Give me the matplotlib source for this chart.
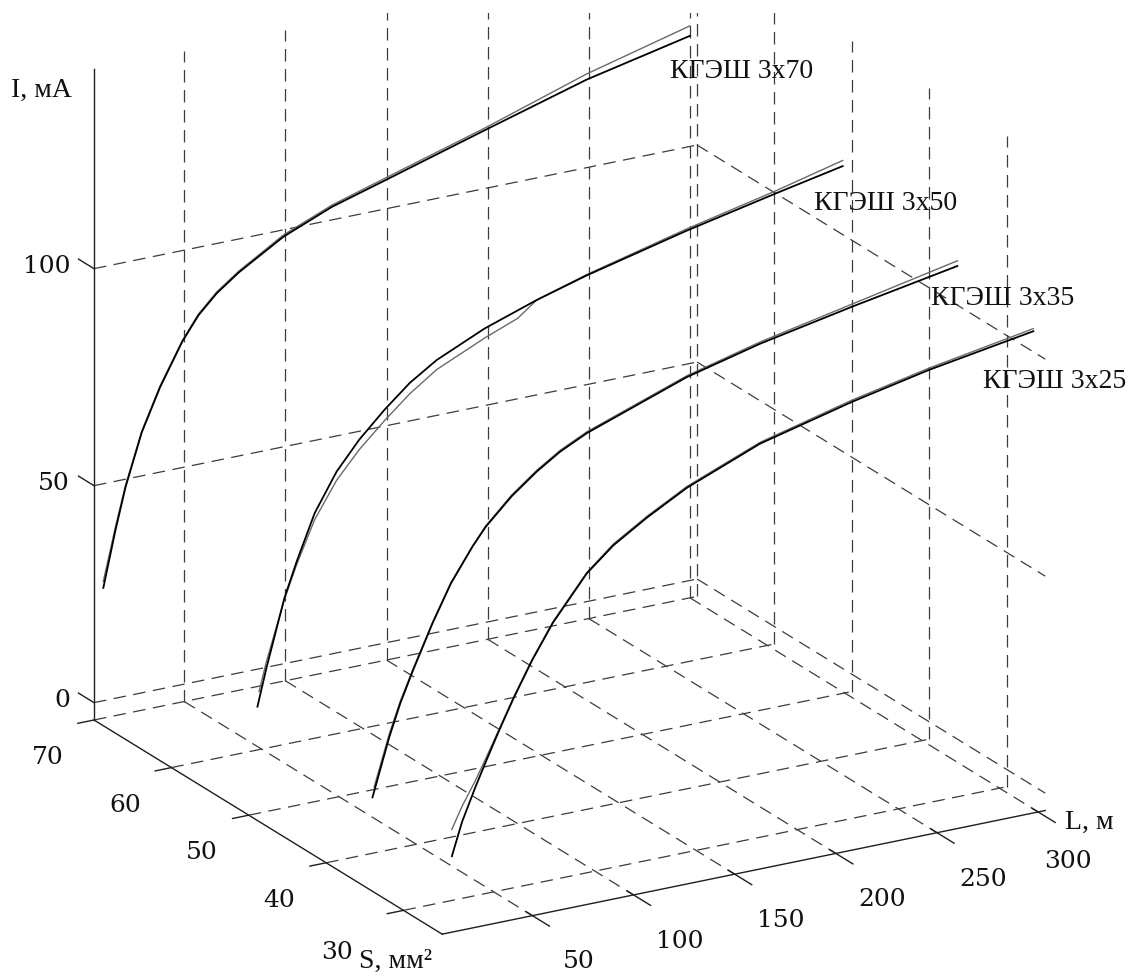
import numpy as np
import matplotlib
matplotlib.use("Agg")
import matplotlib.pyplot as plt
from matplotlib.patches import Rectangle
from mpl_toolkits.mplot3d import proj3d

# axis ranges: L - line length, S - cross-section, I - current
L_MIN, L_MAX = 5.4, 303.5
S_MIN, S_MAX = 25, 70
I_MIN, I_MAX = -4, 146

L_TICKS = [50, 100, 150, 200, 250, 300]
S_TICKS = [70, 60, 50, 40, 30]
I_TICKS = [0, 50, 100]

# КГЭШ 3х70
l70_a = [10, 16, 21, 29, 38, 49, 57, 66, 77, 99, 123, 150, 199, 249, 300]
i70_a = [26, 38.7, 48.2, 60, 69.5, 79, 84.3, 88.5, 92.3, 98.4, 103, 106.7, 113.5, 120.3, 125.5]
l70_b = [10, 16, 21, 29, 38, 49, 57, 66, 77, 99, 123, 150, 199, 249, 300]
i70_b = [27.5, 39.5, 48.6, 60.3, 69.8, 79.2, 84.6, 88.8, 92.6, 98.8, 103.4, 107.2, 114, 121.6, 127.8]

# КГЭШ 3х50
l50_a = [9.7, 14.1, 23, 29.1, 38, 48.8, 60, 72.5, 85, 98.3, 122, 147.7, 172.4, 221.9, 266.2, 299]
i50_a = [20.6, 29, 44.3, 52.2, 62.5, 71, 77.3, 83, 88, 92, 97, 101.1, 104.4, 110, 114.4, 117.5]
l50_b = [10.5, 14.1, 23, 29.1, 38, 48.8, 60, 72.5, 85, 98.3, 122, 138.4, 147.7, 172.4, 221.9, 266.2, 299]
i50_b = [24, 30.5, 44, 51.5, 61, 69, 75, 80.5, 85.5, 89.8, 94.8, 97.8, 101.1, 104.6, 110.4, 115, 118.8]

# КГЭШ 3х35
l35_a = [9.2, 17.5, 22.9, 29, 38.9, 48, 58.7, 65.2, 78, 90.4, 102, 115.2, 164.7, 200.7, 246.3, 298.3]
i35_a = [16.2, 29.3, 36.5, 43.3, 53.5, 61.8, 69.3, 73.2, 79, 83.5, 87, 90, 98.2, 102.4, 106.6, 111]
l35_b = [10, 17.5, 22.9, 29, 38.9, 48, 58.7, 65.2, 78, 90.4, 102, 115.2, 164.7, 200.7, 246.3, 298.3]
i35_b = [18.5, 30, 37, 43.6, 53.7, 62, 69.4, 73.4, 79.3, 83.8, 87.3, 90.3, 98.5, 102.8, 107.2, 112.2]

# КГЭШ 3х25
l25_a = [10.2, 15.2, 21.8, 27.6, 33.3, 40.7, 49.8, 60.1, 76.9, 90, 106.6, 126.4, 162.5, 208, 245.8, 297.6]
i25_a = [13.5, 20.9, 28.3, 34.3, 40, 47, 54.8, 62.5, 72.3, 77.5, 82.3, 87.3, 94, 99.3, 103, 107]
l25_b = [10.2, 15.2, 21.8, 27.6, 33.3, 40.7, 49.8, 60.1, 76.9, 90, 106.6, 126.4, 162.5, 208, 245.8, 297.6]
i25_b = [19.7, 24.5, 29.8, 35, 40.3, 47.2, 55, 62.7, 72.5, 77.8, 82.6, 87.6, 94.3, 99.7, 103.4, 107.6]

curves = [
    (70, l70_a, i70_a, l70_b, i70_b),
    (50, l50_a, i50_a, l50_b, i50_b),
    (35, l35_a, i35_a, l35_b, i35_b),
    (25, l25_a, i25_a, l25_b, i25_b),
]

# curve captions: text and the (L, S, I) point of its left edge
captions = [
    ("КГЭШ 3х70", 290, 70, 118.3),
    ("КГЭШ 3х50", 284.8, 50, 110.2),
    ("КГЭШ 3х35", 285.3, 35, 104.8),
    ("КГЭШ 3х25", 272.8, 25, 97.8),
]

fig = plt.figure(figsize=(11.32, 9.8), dpi=100)
ax = fig.add_axes([0, 0, 1, 1], projection="3d", proj_type="ortho")
ax.set_xlim(L_MIN, L_MAX)
ax.set_ylim(S_MIN, S_MAX)
ax.set_zlim(I_MIN, I_MAX)
ax.set_box_aspect((1, 1, 1))
ax.view_init(elev=20.8, azim=-120)
ax.set_axis_off()
ax.computed_zorder = False

# the original picture is cut a little below its top edge
top_clip = Rectangle((0, 0), 1, 967 / 980, transform=fig.transFigure)


def line3(xs, ys, zs, **kw):
    ln, = ax.plot(xs, ys, zs, **kw)
    ln.set_clip_path(top_clip)
    return ln


grid = dict(color="#3c3c3c", lw=0.9, ls=(0, (10, 6)))
solid = dict(color="#1e1e1e", lw=1.0)

# dashed box: back wall, right wall, floor
for L in L_TICKS:
    line3([L, L], [S_MAX, S_MAX], [I_MIN, I_MAX], **grid)
    line3([L, L], [S_MAX, S_MIN], [I_MIN, I_MIN], **grid)
for S in S_TICKS:
    line3([L_MAX, L_MAX], [S, S], [I_MIN, I_MAX], **grid)
    line3([L_MIN, L_MAX], [S, S], [I_MIN, I_MIN], **grid)
for I in I_TICKS:
    line3([L_MIN, L_MAX], [S_MAX, S_MAX], [I, I], **grid)
    line3([L_MAX, L_MAX], [S_MAX, S_MIN], [I, I], **grid)

# axes and ticks
line3([L_MIN, L_MIN], [S_MAX, S_MAX], [I_MIN, I_MAX], **solid)
line3([L_MIN, L_MIN], [S_MAX, S_MIN], [I_MIN, I_MIN], **solid)
line3([L_MIN, L_MAX], [S_MIN, S_MIN], [I_MIN, I_MIN], **solid)
for I in I_TICKS:
    line3([L_MIN, L_MIN], [S_MAX, S_MAX + 2], [I, I], **solid)
for S in S_TICKS:
    line3([L_MIN, L_MIN - 8], [S, S], [I_MIN, I_MIN], **solid)
for L in L_TICKS:
    line3([L, L], [S_MIN + 0.8, S_MIN - 2.2], [I_MIN, I_MIN], **solid)

# curves: calculated (grey) under measured (black)
for S, la, ia, lb, ib in curves:
    line3(lb, [S] * len(lb), ib, color="#6a6a6a", lw=1.0)
    line3(la, [S] * len(la), ia, color="black", lw=1.3)


# fit the projected box onto the reference corners
def to_px(x, y, z):
    xs, ys, _ = proj3d.proj_transform(x, y, z, ax.get_proj())
    return np.array(ax.transData.transform((xs, ys)))


fig.canvas.draw()
W, H = fig.bbox.width, fig.bbox.height
p0 = to_px(L_MIN, S_MAX, I_MIN)
p1 = to_px(L_MAX, S_MIN, I_MIN)
t0 = np.array([94, H - 720])
t1 = np.array([1045, H - 813])
k = np.linalg.norm(t1 - t0) / np.linalg.norm(p1 - p0)
pos = ax.get_position()
org = np.array([pos.x0 * W, pos.y0 * H])
side = pos.width * W
new_side = side * k
new_org = t0 - (p0 - org) / side * new_side
ax.set_position([new_org[0] / W, new_org[1] / H, new_side / W, new_side / H])


# texts are put on the figure at the projected data points
def label(x, y, z, s, **kw):
    px, py = to_px(x, y, z)
    fig.text(px / W, py / H, s, **kw)


num_font = dict(family="DejaVu Serif", fontsize=18, color="#111111")
txt_font = dict(family="Liberation Serif", fontsize=20, color="#111111")

for I in I_TICKS:
    label(L_MIN, S_MAX + 3.1, I - 2.8, str(I), ha="right", va="center", **num_font)
for S in S_TICKS:
    dl = -33 if S == 30 else -23
    label(L_MIN + dl, S, I_MIN - 6.5, str(S), ha="center", va="center", **num_font)
for L in L_TICKS:
    dl = -8 if L == 300 else 0
    label(L + dl, S_MIN - 6, I_MIN - 4.1, str(L), ha="center", va="center", **num_font)

label(L_MIN, S_MAX + 2.85, I_MAX - 8, "I, мА", ha="right", va="center", **txt_font)
label(L_MAX, S_MIN - 2.6, I_MIN, "L, м", ha="left", va="center", **txt_font)
label(L_MIN - 5, S_MIN, I_MIN - 5.8, "S, мм²", ha="right", va="center", **txt_font)

for name, L, S, I in captions:
    label(L, S, I, name, ha="left", va="center", **txt_font)

fig.savefig("out.png", dpi=100)
